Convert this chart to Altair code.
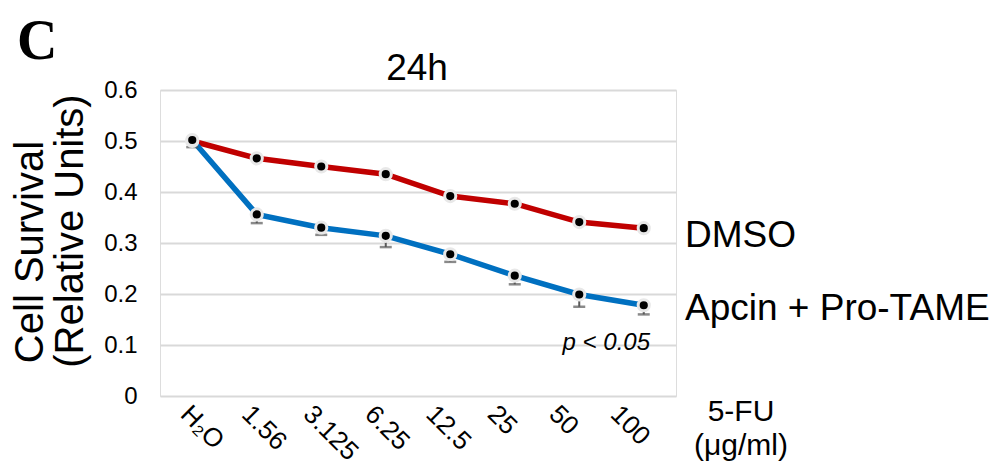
import altair as alt
import pandas as pd

conc = ["H₂O", "1.56", "3.125", "6.25", "12.5", "25", "50", "100"]
dmso = [0.500, 0.466, 0.450, 0.435, 0.392, 0.377, 0.341, 0.329]
apcin = [0.502, 0.356, 0.330, 0.314, 0.278, 0.236, 0.199, 0.178]
apcin_low = [0.488, 0.339, 0.316, 0.292, 0.263, 0.219, 0.175, 0.160]
y_ticks = [0, 0.1, 0.2, 0.3, 0.4, 0.5, 0.6]

FONT = "Liberation Sans"
RED = "#C00000"
BLUE = "#0070C0"

rows = []
for c, d, a, lo in zip(conc, dmso, apcin, apcin_low):
    rows.append({"conc": c, "series": "DMSO", "value": d, "low": d})
    rows.append({"conc": c, "series": "Apcin + Pro-TAME", "value": a, "low": lo})
df = pd.DataFrame(rows)
err = df[df["series"] == "Apcin + Pro-TAME"]

xenc = alt.X("conc:N", sort=conc, scale=alt.Scale(type="point", padding=0.5), axis=None)
yscale = alt.Scale(domain=[0, 0.6], nice=False, zero=True)
yenc = alt.Y(
    "value:Q",
    scale=yscale,
    axis=alt.Axis(
        values=y_ticks, grid=True, gridColor="#D9D9D9", gridWidth=2,
        domain=False, ticks=False, tickSize=0, labelFontSize=24, labelPadding=23,
        labelFont=FONT, labelColor="black", title=None,
        labelExpr="datum.value == 0 ? '0' : format(datum.value, '.1f')",
    ),
)

base = alt.Chart(df)

lines = base.mark_line(strokeWidth=5.5).encode(
    x=xenc, y=yenc,
    color=alt.Color("series:N", scale=alt.Scale(domain=["DMSO", "Apcin + Pro-TAME"], range=[RED, BLUE]), legend=None),
    order=alt.Order("idx:Q"),
).transform_calculate(idx="indexof(" + str(conc) + ", datum.conc)")

err_rule = alt.Chart(err).mark_rule(color="#595959", strokeWidth=2).encode(
    x=xenc, y=alt.Y("value:Q", scale=yscale), y2="low:Q"
)
err_cap = alt.Chart(err).mark_tick(color="#595959", thickness=2.5, size=12, orient="horizontal").encode(
    x=xenc, y=alt.Y("low:Q", scale=yscale)
)

pts = base.mark_point(filled=True, fill="black", stroke="#E8E8E8", strokeWidth=3, size=125, opacity=1).encode(
    x=xenc, y=alt.Y("value:Q", scale=yscale)
)


def note(text, x, y, size, align="left", baseline="alphabetic", angle=0, font=FONT, weight="normal", style="normal"):
    return alt.Chart(pd.DataFrame({"t": [text]})).mark_text(
        fontSize=size, align=align, baseline=baseline, angle=angle, font=font,
        fontWeight=weight, fontStyle=style, color="black",
    ).encode(x=alt.value(x), y=alt.value(y), text="t:N")


xlabels = alt.Chart(pd.DataFrame({"conc": conc})).mark_text(
    angle=45, align="left", baseline="top", fontSize=26, font=FONT, color="black"
).encode(
    x=alt.X("conc:N", sort=conc, scale=alt.Scale(type="point", range=[34, 464], padding=0), axis=None),
    y=alt.value(311),
    text="conc:N",
)

main = alt.layer(lines, err_rule, err_cap, pts)

chart = alt.layer(
    main,
    xlabels,
    note("24h", 257, -10, 37, align="center"),
    note("C", -143, -31, 56, font="Liberation Serif", weight="bold"),
    note("DMSO", 525, 157, 37),
    note("Apcin + Pro-TAME", 525, 230, 37),
    note("p < 0.05", 490, 260, 24, align="right", style="italic"),
    note("5-FU", 581, 331, 30, align="center"),
    note("(μg/ml)", 581, 365, 30, align="center"),
    note("Cell Survival", -129, 162, 40, align="center", baseline="middle", angle=270),
    note("(Relative Units)", -89, 141, 40, align="center", baseline="middle", angle=270),
).resolve_scale(x="independent").properties(
    width=516, height=306,
    autosize=alt.AutoSizeParams(type="none"),
    padding={"left": 152, "top": 82, "right": 316, "bottom": 69},
).configure_view(fill="#F2F2F2", stroke=None).configure(background="white")

chart.save("out.html", embed_options={"renderer": "svg", "actions": False})
